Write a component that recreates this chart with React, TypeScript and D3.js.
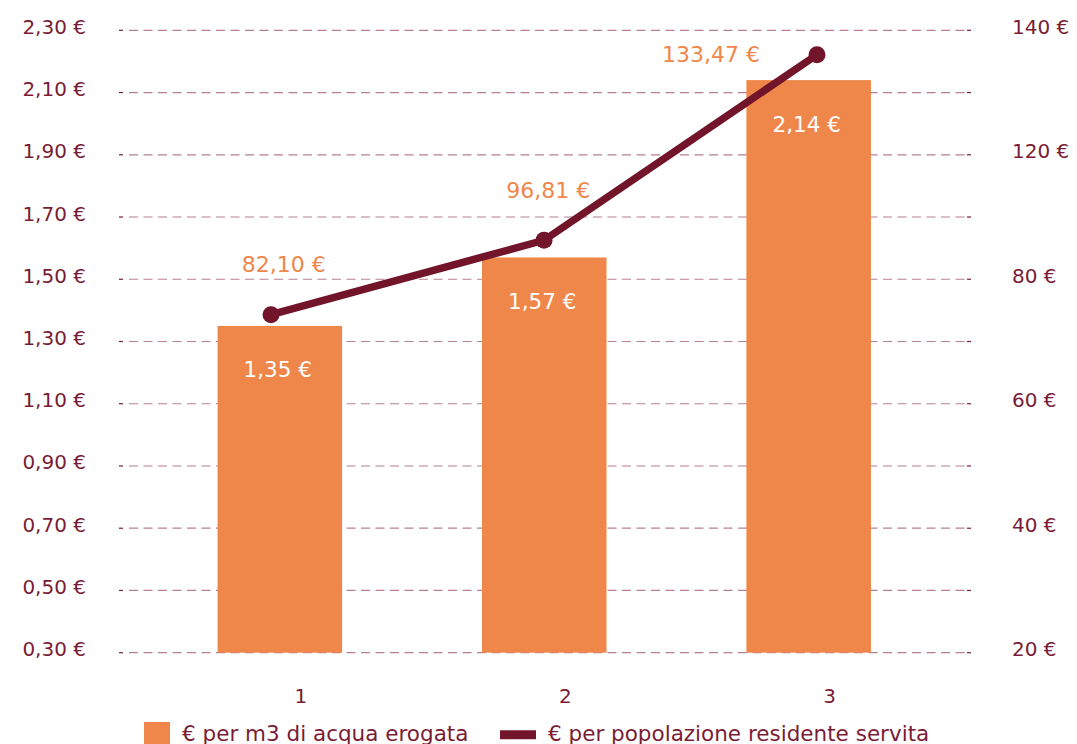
import React from "react";
import * as d3 from "d3";

const categories = ["1", "2", "3"];
const barValues = [1.35, 1.57, 2.14];
const lineValues = [82.1, 96.81, 133.47];
const leftTickValues = [0.3, 0.5, 0.7, 0.9, 1.1, 1.3, 1.5, 1.7, 1.9, 2.1, 2.3];
const rightTickLabels = ["20 €", "40 €", "60 €", "80 €", "120 €", "140 €"];
const legendLabels = ["€ per m3 di acqua erogata", "€ per popolazione residente servita"];

const W = 1077;
const H = 744;
const FONT = "'DejaVu Sans', sans-serif";
const MAROON = "#7a1c35";
const LINE = "#72142a";
const ORANGE = "#f0874a";
const GRID = "#b8808f";

const fmt = (v: number, d: number) => v.toFixed(d).replace(".", ",") + " €";

export default function App() {
  const yL = d3.scaleLinear().domain([0.3, 2.3]).range([652.7, 30.3]);
  const yR = d3.scaleLinear().domain([15.3, 138.3]).range([652.7, 30.3]);
  const xB = d3.scaleBand<string>().domain(categories).range([147.6, 940.9]).paddingInner(0.529).paddingOuter(0.2645);
  const xL = d3.scalePoint<string>().domain(categories).range([271, 817]);

  const linePath = d3
    .line<number>()
    .x((_, i) => xL(categories[i])!)
    .y((v) => yR(v))(lineValues)!;

  const gx0 = 119;
  const gx1 = 971;

  return (
    <div style={{ position: "absolute", left: 0, top: 0 }}>
      <svg width={W} height={H} style={{ display: "block", fontFamily: FONT }}>
        {leftTickValues.map((t) => {
          const y = yL(t);
          return (
            <g key={t}>
              <line x1={gx0 + 10} x2={gx1 - 5} y1={y} y2={y} stroke={GRID} strokeWidth={1.2} strokeDasharray="9 5.5" />
              <line x1={gx0} x2={gx0 + 4} y1={y} y2={y} stroke={MAROON} strokeWidth={1.2} />
              <line x1={gx1 - 4} x2={gx1} y1={y} y2={y} stroke={MAROON} strokeWidth={1.2} />
              <text x={86} y={y - 3.5} textAnchor="end" dominantBaseline="central" fontSize={20} fill={MAROON}>
                {fmt(t, 2)}
              </text>
            </g>
          );
        })}
        {rightTickLabels.map((lab, i) => (
          <text key={lab} x={1012} y={yL(leftTickValues[i * 2]) - 3.5} dominantBaseline="central" fontSize={20} fill={MAROON}>
            {lab}
          </text>
        ))}
        {barValues.map((v, i) => {
          const x = xB(categories[i])!;
          const y = yL(v);
          return (
            <g key={i}>
              <rect x={x} y={y} width={xB.bandwidth()} height={yL(0.3) - y} fill={ORANGE} />
              <text x={x + xB.bandwidth() / 2 - 2} y={y + 44} textAnchor="middle" dominantBaseline="central" fontSize={21.5} fill="#ffffff">
                {fmt(v, 2)}
              </text>
            </g>
          );
        })}
        {categories.map((c) => (
          <text key={c} x={xB(c)! + xB.bandwidth() / 2 + 21} y={696} textAnchor="middle" dominantBaseline="central" fontSize={20} fill={MAROON}>
            {c}
          </text>
        ))}
        <path d={linePath} fill="none" stroke={LINE} strokeWidth={7.5} strokeLinejoin="round" />
        {lineValues.map((v, i) => {
          const cx = xL(categories[i])!;
          const cy = yR(v);
          const last = i === lineValues.length - 1;
          return (
            <g key={i}>
              <circle cx={cx} cy={cy} r={8.5} fill={LINE} />
              <text
                x={last ? cx - 57 : xB(categories[i])! + xB.bandwidth() / 2 + 4}
                y={last ? cy : cy - 50}
                textAnchor={last ? "end" : "middle"}
                dominantBaseline="central"
                fontSize={22}
                fill={ORANGE}
              >
                {fmt(v, 2)}
              </text>
            </g>
          );
        })}
        <rect x={144} y={722} width={26} height={24} fill={ORANGE} />
        <text x={182} y={733} dominantBaseline="central" fontSize={21.5} fill={MAROON}>
          {legendLabels[0]}
        </text>
        <line x1={500} x2={536} y1={734.7} y2={734.7} stroke={LINE} strokeWidth={9} />
        <text x={548} y={733} dominantBaseline="central" fontSize={21.5} fill={MAROON}>
          {legendLabels[1]}
        </text>
      </svg>
    </div>
  );
}
